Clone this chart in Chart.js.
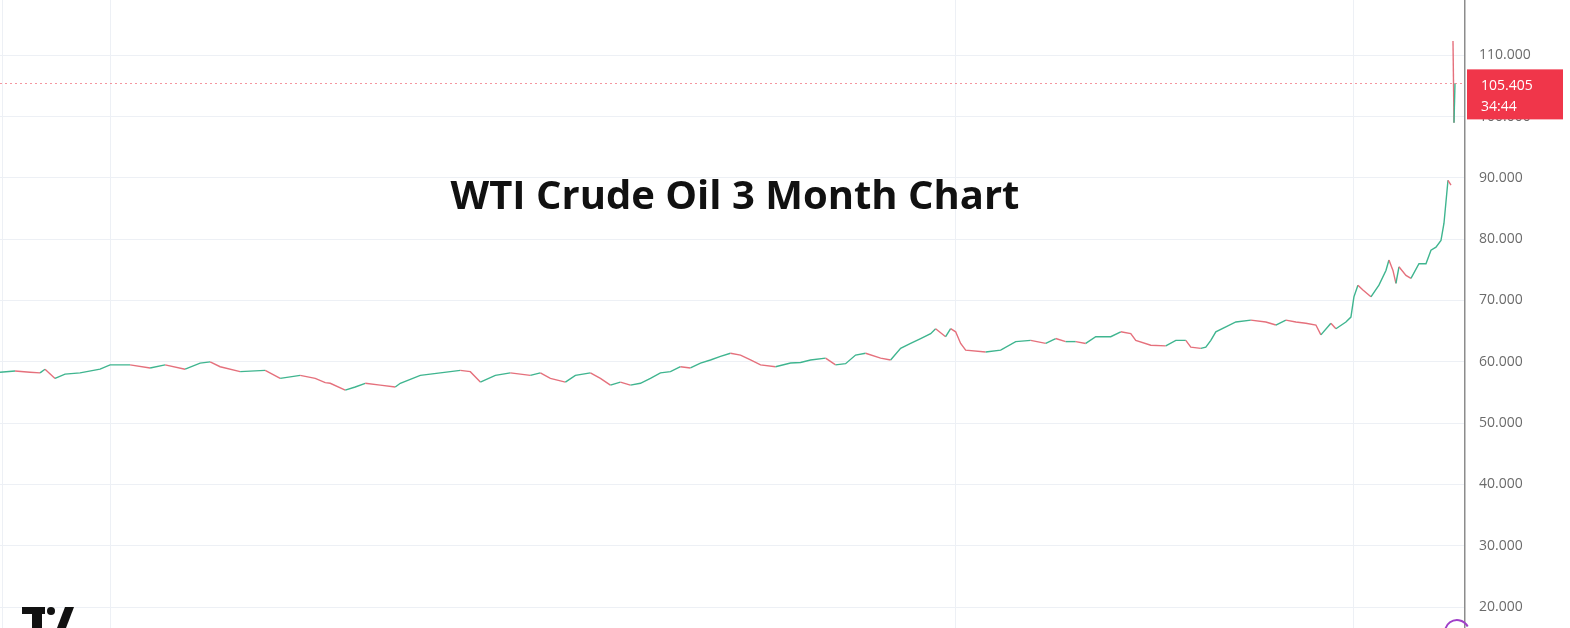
<!DOCTYPE html>
<html>
<head>
<meta charset="utf-8">
<script src="https://cdn.jsdelivr.net/npm/chart.js@4"></script>
<style>
  html, body { margin: 0; padding: 0; background: #fff; }
  #wrap { position: relative; width: 1570px; height: 628px; overflow: hidden; }
</style>
</head>
<body>
<div id="wrap"><canvas id="oilChart" width="1570" height="628"></canvas></div>
<script>
// bar number (session bars) and close price
const bars = [0, 3, 6, 8, 9, 11, 13, 16, 20, 22, 26, 30, 33, 37, 40, 42, 44, 48, 53, 56,
  60, 63, 65, 66, 69, 71, 73, 76, 79, 80, 84, 88, 92, 94, 96, 99, 102, 106, 108, 110,
  113, 115, 118, 120, 122, 124, 126, 128, 130, 132, 134, 136, 138, 140, 142, 144, 146, 148, 150, 152,
  155, 158, 160, 162, 165, 167, 169, 171, 173, 176, 178, 180, 182, 184, 186, 187, 189, 190, 191, 192,
  193, 197, 200, 203, 206, 209, 211, 213, 215, 217, 219, 222, 224, 226, 227, 230, 233, 235, 237, 238,
  240, 241, 242, 243, 245, 247, 250, 253, 255, 257, 259, 261, 263, 264, 266, 267, 269, 270, 270.6, 271.4,
  272.4, 274, 275.6, 277, 277.6, 278.4, 279, 279.6, 281, 282, 283.6, 285, 286, 287, 288, 288.6, 289.4, 290,
  290.2, 290.4, 290.6, 290.8];
const closes = [58.3, 58.5, 58.3, 58.2, 58.8, 57.3, 58.0, 58.2, 58.8, 59.5, 59.5, 59.0, 59.5, 58.8, 59.8, 60.0, 59.2, 58.4, 58.6, 57.3,
  57.8, 57.3, 56.6, 56.5, 55.4, 55.9, 56.5, 56.2, 55.9, 56.5, 57.8, 58.2, 58.6, 58.4, 56.7, 57.8, 58.2, 57.8, 58.2, 57.3,
  56.7, 57.8, 58.2, 57.3, 56.2, 56.7, 56.2, 56.5, 57.3, 58.2, 58.4, 59.2, 59.0, 59.8, 60.3, 60.9, 61.4, 61.1, 60.3, 59.5,
  59.2, 59.8, 59.9, 60.3, 60.6, 59.5, 59.7, 61.1, 61.4, 60.6, 60.3, 62.2, 63.0, 63.8, 64.6, 65.4, 64.1, 65.4, 64.9, 63.0,
  61.9, 61.6, 61.9, 63.3, 63.5, 63.0, 63.8, 63.3, 63.3, 63.0, 64.1, 64.1, 64.9, 64.6, 63.5, 62.7, 62.6, 63.5, 63.5, 62.4,
  62.2, 62.4, 63.5, 64.9, 65.7, 66.5, 66.8, 66.5, 66.0, 66.8, 66.5, 66.3, 66.0, 64.4, 66.3, 65.4, 66.5, 67.3, 70.6, 72.5,
  71.7, 70.6, 72.5, 74.9, 76.6, 74.9, 72.8, 75.5, 74.1, 73.6, 76.0, 76.0, 78.2, 78.7, 79.8, 82.6, 89.6, 88.8,
  null, 112.3, 99.0, 105.405];
const priceTicks = [20, 30, 40, 50, 60, 70, 80, 90, 100, 110];
const gridBars = [0.4, 22, 191, 270.6];
const lastPrice = '105.405';
const countdown = '34:44';
const title = 'WTI Crude Oil 3 Month Chart';

const upColor = '#3fb58f';
const downColor = '#e5707c';

const overlay = {
  id: 'overlay',
  afterDatasetsDraw(chart) {
    const { ctx, chartArea, scales } = chart;
    const py = scales.y.getPixelForValue(parseFloat(lastPrice));
    ctx.save();
    ctx.strokeStyle = 'rgba(238, 80, 95, 0.6)';
    ctx.lineWidth = 1;
    ctx.setLineDash([2, 3]);
    ctx.beginPath();
    ctx.moveTo(chartArea.left, Math.round(py) + 0.5);
    ctx.lineTo(chartArea.right, Math.round(py) + 0.5);
    ctx.stroke();
    ctx.restore();
  },
  afterDraw(chart) {
    const { ctx, chartArea, scales } = chart;
    const py = scales.y.getPixelForValue(parseFloat(lastPrice));
    ctx.save();
    // price tag
    ctx.fillStyle = '#f0364a';
    ctx.fillRect(chartArea.right + 2, py - 14, 96, 50);
    ctx.fillStyle = '#ffffff';
    ctx.font = '14px "Open Sans"';
    ctx.textAlign = 'left';
    ctx.textBaseline = 'middle';
    ctx.fillText(lastPrice, chartArea.right + 16, py + 3);
    ctx.fillText(countdown, chartArea.right + 16, py + 24);

    // title
    ctx.fillStyle = '#111111';
    ctx.font = 'bold 40px "Open Sans"';
    ctx.textAlign = 'center';
    ctx.textBaseline = 'alphabetic';
    ctx.fillText(title, 735, 209);

    // logo, bottom left
    ctx.fillStyle = '#111111';
    ctx.fillRect(22, 607, 23, 7);
    ctx.fillRect(32, 607, 10, 21);
    ctx.beginPath();
    ctx.arc(51, 611, 4, 0, Math.PI * 2);
    ctx.fill();
    ctx.beginPath();
    ctx.moveTo(57, 628);
    ctx.lineTo(65, 607);
    ctx.lineTo(74, 607);
    ctx.lineTo(66, 628);
    ctx.closePath();
    ctx.fill();

    // compare icon, bottom right
    ctx.strokeStyle = '#a040c8';
    ctx.lineWidth = 2;
    ctx.beginPath();
    ctx.arc(1457, 632, 12, Math.PI * 1.05, Math.PI * 1.85);
    ctx.stroke();
    ctx.restore();
  }
};

new Chart(document.getElementById('oilChart').getContext('2d'), {
  type: 'line',
  data: {
    datasets: [{
      data: bars.map((b, i) => ({ x: b, y: closes[i] })),
      borderWidth: 1.4,
      pointRadius: 0,
      tension: 0,
      spanGaps: false,
      borderColor: upColor,
      segment: {
        borderColor: c => c.p1.parsed.y >= c.p0.parsed.y ? upColor : downColor
      }
    }]
  },
  options: {
    responsive: false,
    devicePixelRatio: 1,
    animation: false,
    layout: { padding: 0 },
    plugins: { legend: { display: false }, tooltip: { enabled: false } },
    scales: {
      x: {
        type: 'linear',
        min: 0,
        max: 292.8,
        afterBuildTicks: s => { s.ticks = gridBars.map(v => ({ value: v })); },
        afterFit: s => { s.height = 0; s.paddingLeft = 0; s.paddingRight = 0; },
        ticks: { display: false },
        grid: { color: '#edf0f5', drawTicks: false },
        border: { display: false }
      },
      y: {
        position: 'right',
        min: 16.6,
        max: 119,
        afterBuildTicks: s => { s.ticks = priceTicks.map(v => ({ value: v })); },
        afterFit: s => { s.width = 105; s.paddingTop = 0; s.paddingBottom = 0; },
        ticks: {
          includeBounds: false,
          padding: 14,
          color: '#6b6b6b',
          font: { family: '"Open Sans"', size: 14 },
          callback: v => v.toFixed(3)
        },
        grid: { color: '#edf0f5', drawTicks: false },
        border: { color: '#8c8c8c', width: 1.5 }
      }
    }
  },
  plugins: [overlay]
});
</script>
</body>
</html>
